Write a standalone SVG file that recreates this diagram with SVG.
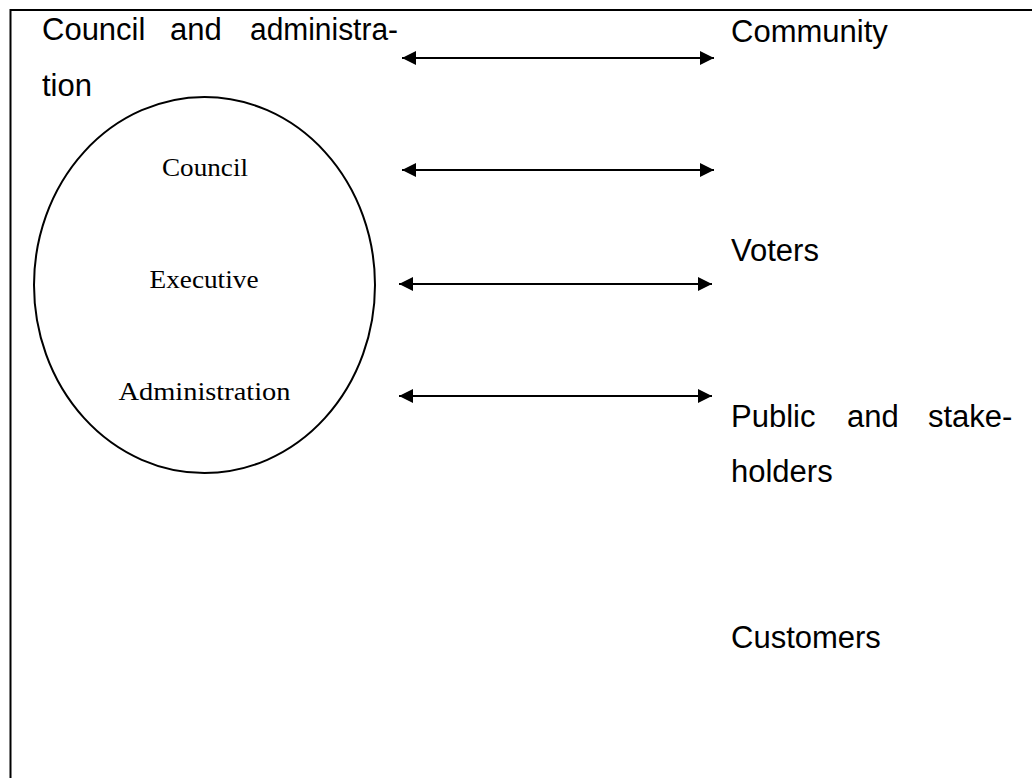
<svg xmlns="http://www.w3.org/2000/svg" width="1032" height="778" viewBox="0 0 1032 778">
  <style>
    .sans { font-family: "Liberation Sans", Arial, sans-serif; font-size: 31px; fill: #000; }
    .serif { font-family: "Liberation Serif", "Times New Roman", serif; font-size: 26px; fill: #000; text-anchor: middle; }
    .conn { stroke: #000; stroke-width: 2; fill: none; marker-start: url(#arrow); marker-end: url(#arrow); }
  </style>
  <defs>
    <marker id="arrow" viewBox="0 0 14 14" refX="14" refY="7" markerWidth="14" markerHeight="14" markerUnits="userSpaceOnUse" orient="auto-start-reverse">
      <path d="M0,0 L14,7 L0,14 z" fill="#000"/>
    </marker>
  </defs>
  <rect width="1032" height="778" fill="#fff"/>
  <g id="frame">
    <path d="M10.5,778 L10.5,10 L1032,10" fill="none" stroke="#000" stroke-width="2"/>
  </g>
  <g id="council-and-administration">
    <text class="sans" y="40"><tspan x="42">Council</tspan><tspan x="170">and</tspan><tspan x="250" textLength="148" lengthAdjust="spacingAndGlyphs">administra-</tspan></text>
    <text class="sans" x="42" y="96">tion</text>
  </g>
  <g id="circle">
    <ellipse cx="204.5" cy="285" rx="170.5" ry="188" fill="none" stroke="#000" stroke-width="2"/>
  </g>
  <g id="council">
    <text class="serif" x="205" y="176" textLength="86" lengthAdjust="spacingAndGlyphs">Council</text>
  </g>
  <g id="executive">
    <text class="serif" x="204" y="288" textLength="109" lengthAdjust="spacingAndGlyphs">Executive</text>
  </g>
  <g id="administration">
    <text class="serif" x="204.5" y="400" textLength="172" lengthAdjust="spacingAndGlyphs">Administration</text>
  </g>
  <g id="community">
    <text class="sans" x="731" y="42">Community</text>
  </g>
  <g id="voters">
    <text class="sans" x="731" y="261">Voters</text>
  </g>
  <g id="public-and-stakeholders">
    <text class="sans" y="427"><tspan x="731">Public</tspan><tspan x="847">and</tspan><tspan x="928">stake-</tspan></text>
    <text class="sans" x="731" y="482">holders</text>
  </g>
  <g id="customers">
    <text class="sans" x="731" y="648">Customers</text>
  </g>
  <g id="connectors">
    <line class="conn" x1="402" y1="58" x2="714" y2="58"/>
    <line class="conn" x1="402" y1="170" x2="714" y2="170"/>
    <line class="conn" x1="399" y1="284" x2="712" y2="284"/>
    <line class="conn" x1="399" y1="396" x2="712" y2="396"/>
  </g>
</svg>
